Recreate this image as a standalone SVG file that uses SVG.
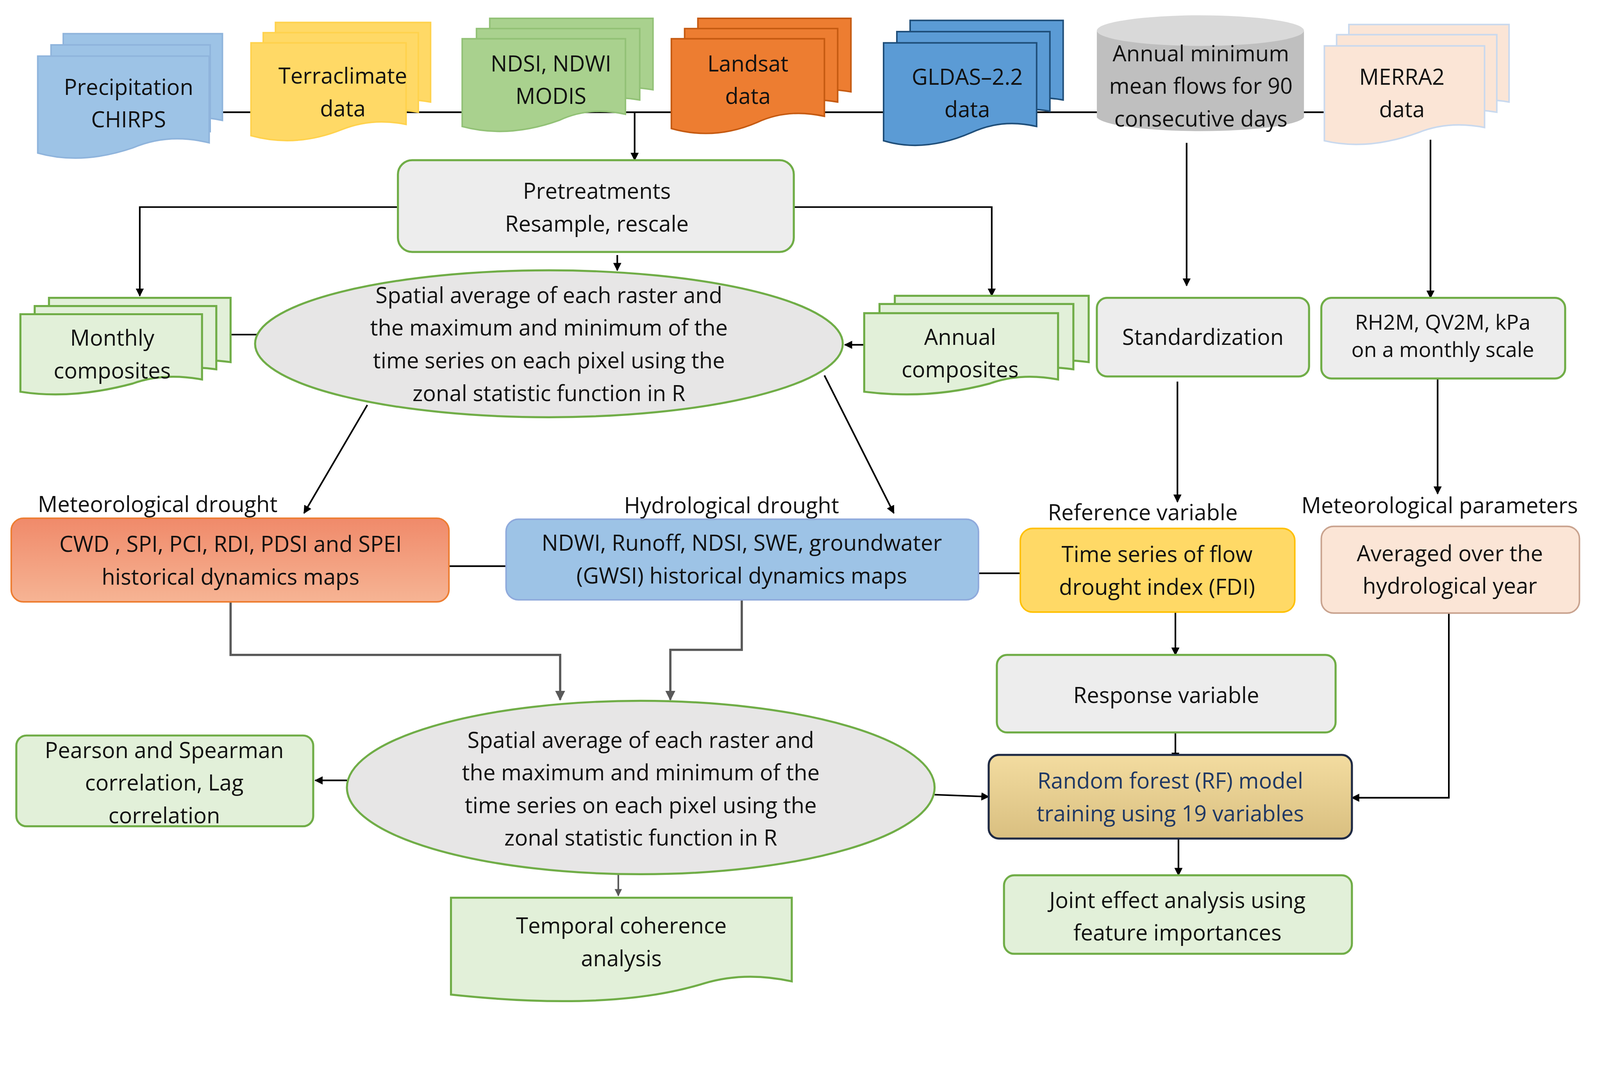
<svg xmlns="http://www.w3.org/2000/svg" width="4371" height="2773" viewBox="0 0 4371 2773">
<style>
text{font-family:"Open Sans","DejaVu Sans",sans-serif;font-size:21.5px;fill:#111;text-anchor:middle}
.l{stroke:#000;stroke-width:1.6;fill:none}
.g{stroke:#595959;stroke-width:2.2;fill:none}
.bx{fill:#ededed;stroke:#70ad47;stroke-width:2}
.gr{fill:#e2f0d9;stroke:#70ad47;stroke-width:2}
</style>
<defs>
<marker id="a" viewBox="0 0 10 10" refX="9" refY="5" markerWidth="5" markerHeight="5" orient="auto"><path d="M0,0L10,5L0,10z" fill="#000"/></marker>
<marker id="ag" viewBox="0 0 10 10" refX="9" refY="5" markerWidth="4.5" markerHeight="4.5" orient="auto"><path d="M0,0L10,5L0,10z" fill="#595959"/></marker>
<linearGradient id="rf" x1="0" y1="0" x2="0" y2="1"><stop offset="0" stop-color="#f3dca0"/><stop offset="1" stop-color="#d9bf80"/></linearGradient>
<linearGradient id="cw" x1="0" y1="0" x2="0" y2="1"><stop offset="0" stop-color="#f08a6a"/><stop offset="1" stop-color="#f6b494"/></linearGradient>
</defs>
<rect width="4371" height="2773" fill="#fff"/>
<g transform="scale(2.612)">
<g id="connectors">
<path class="l" d="M205,110H1298"/>
<path class="l" d="M622,110V157" marker-end="url(#a)"/>
<path class="l" d="M390,203H137V290" marker-end="url(#a)"/>
<path class="l" d="M778,203H972V290" marker-end="url(#a)"/>
<path class="l" d="M605,250V265" marker-end="url(#a)"/>
<path class="l" d="M225,328H252"/>
<path class="l" d="M847,338H828" marker-end="url(#a)"/>
<path class="l" d="M360,397L298,503" marker-end="url(#a)"/>
<path class="l" d="M808,368L876,503" marker-end="url(#a)"/>
<path class="l" d="M1163,140V280" marker-end="url(#a)"/>
<path class="l" d="M1402,137V292" marker-end="url(#a)"/>
<path class="l" d="M1154,374V492" marker-end="url(#a)"/>
<path class="l" d="M1409,371V484" marker-end="url(#a)"/>
<path class="l" d="M440,555H496M959,562H1000"/>
<path class="l" d="M1152,600V642" marker-end="url(#a)"/>
<path class="l" d="M1152,718V745" marker-end="url(#a)"/>
<path class="l" d="M1420,575V782H1325" marker-end="url(#a)"/>
<path class="g" d="M226,590V642H549V686" marker-end="url(#ag)"/>
<path class="g" d="M727,588V637H657V686" marker-end="url(#ag)"/>
<path class="l" d="M340,765H309" marker-end="url(#a)"/>
<path class="l" d="M916,779L969,781" marker-end="url(#a)"/>
<path class="g" d="M606,857V878" marker-end="url(#ag)" style="stroke-width:1.6"/>
<path class="l" d="M1155,822V858" marker-end="url(#a)"/>
</g>
<g id="chirps" fill="#9dc3e6" stroke="#8fb4dc" stroke-width="1.5">
<path d="M62,33H218V118Q180,110 150,125Q100,140 62,128Z"/>
<path d="M50,44H206V129Q168,121 138,136Q88,151 50,139Z"/>
<path d="M37,55H205V140Q165,130 130,145Q80,162 37,150Z"/>
<text x="126" y="93" stroke="none">Precipitation</text><text x="126" y="125" stroke="none">CHIRPS</text>
</g>
<g id="terraclimate" fill="#ffd966" stroke="#ffd24d" stroke-width="1.5">
<path d="M270,22H422V100Q390,94 360,106Q310,124 270,112Z"/>
<path d="M258,32H410V110Q378,104 348,116Q298,134 258,122Z"/>
<path d="M246,42H398V122Q365,115 335,127Q290,145 246,133Z"/>
<text x="336" y="82" stroke="none">Terraclimate</text><text x="336" y="114" stroke="none">data</text>
</g>
<g id="modis" fill="#a9d18e" stroke="#92c176" stroke-width="1.5">
<path d="M480,18H640V88Q605,82 575,94Q525,110 480,100Z"/>
<path d="M467,28H627V98Q592,92 562,104Q512,120 467,110Z"/>
<path d="M453,38H613V112Q578,104 548,118Q498,136 453,124Z"/>
<text x="540" y="70" stroke="none">NDSI, NDWI</text><text x="540" y="102" stroke="none">MODIS</text>
</g>
<g id="landsat" fill="#ed7d31" stroke="#c55a11" stroke-width="1.5">
<path d="M684,18H834V90Q800,84 770,96Q720,112 684,102Z"/>
<path d="M671,28H821V100Q787,94 757,106Q707,122 671,112Z"/>
<path d="M658,38H808V114Q772,106 742,120Q700,138 658,126Z"/>
<text x="733" y="70" stroke="none">Landsat</text><text x="733" y="102" stroke="none">data</text>
</g>
<g id="gldas" fill="#5b9bd5" stroke="#1f4e79" stroke-width="1.5">
<path d="M892,20H1042V98Q1008,92 978,104Q930,122 892,110Z"/>
<path d="M879,31H1029V109Q995,103 965,115Q917,133 879,121Z"/>
<path d="M866,42H1016V124Q982,116 952,130Q906,150 866,138Z"/>
<text x="948" y="83" stroke="none">GLDAS–2.2</text><text x="948" y="115" stroke="none">data</text>
</g>
<g id="annualmin">
<path d="M1075,30V115A102,15 0 0 0 1278,115V30Z" fill="#bfbfbf"/>
<ellipse cx="1176.5" cy="30" rx="101.5" ry="15" fill="#d9d9d9"/>
<text x="1177" y="60">Annual minimum</text><text x="1177" y="92">mean flows for 90</text><text x="1177" y="124">consecutive days</text>
</g>
<g id="merra2" fill="#fbe5d6" stroke="#c9d9ee" stroke-width="1.5">
<path d="M1322,24H1479V100Q1445,94 1415,106Q1365,122 1322,112Z"/>
<path d="M1310,34H1467V110Q1433,104 1403,116Q1353,132 1310,122Z"/>
<path d="M1298,45H1455V125Q1420,118 1390,130Q1340,148 1298,138Z"/>
<text x="1374" y="83" stroke="none">MERRA2</text><text x="1374" y="115" stroke="none">data</text>
</g>
<g id="pretreat"><rect class="bx" x="390" y="157" width="388" height="90" rx="14"/>
<text x="585" y="195">Pretreatments</text><text x="585" y="227">Resample, rescale</text></g>
<g id="ellipse1"><ellipse cx="538" cy="337" rx="288" ry="72" fill="#e7e6e6" stroke="#70ad47" stroke-width="2"/>
<text x="538" y="297">Spatial average of each raster and</text><text x="538" y="329">the maximum and minimum of the</text><text x="538" y="361">time series on each pixel using the</text><text x="538" y="393">zonal statistic function in R</text></g>
<g id="monthly">
<path class="gr" d="M48,292H226V355Q190,350 160,360Q100,375 48,366Z"/>
<path class="gr" d="M34,300H212V362Q176,357 146,367Q86,382 34,373Z"/>
<path class="gr" d="M20,308H198V372Q160,365 130,376Q70,392 20,384Z"/>
<text x="110" y="339">Monthly</text><text x="110" y="371">composites</text></g>
<g id="annualcomp">
<path class="gr" d="M877,290H1067V355Q1030,350 1000,360Q940,375 877,366Z"/>
<path class="gr" d="M862,298H1052V362Q1015,357 985,367Q925,382 862,373Z"/>
<path class="gr" d="M847,307H1037V372Q1000,365 970,376Q910,392 847,384Z"/>
<text x="941" y="338">Annual</text><text x="941" y="370">composites</text></g>
<g id="standard"><rect class="bx" x="1075" y="292" width="208" height="77" rx="10"/><text x="1179" y="338">Standardization</text></g>
<g id="rh2m"><rect class="bx" x="1295" y="292" width="239" height="79" rx="10"/><text x="1414" y="323" style="font-size:20.5px">RH2M, QV2M, kPa</text><text x="1414" y="350" style="font-size:20.5px">on a monthly scale</text></g>
<g id="labels" style="font-size:22px">
<text x="37" y="502" style="text-anchor:start">Meteorological drought</text>
<text x="717" y="503">Hydrological drought</text>
<text x="1120" y="510">Reference variable</text>
<text x="1411" y="503">Meteorological parameters</text></g>
<g id="cwd"><rect x="11" y="508" width="429" height="82" rx="12" fill="url(#cw)" stroke="#ed7d31" stroke-width="1.5"/>
<text x="226" y="541">CWD , SPI, PCI, RDI, PDSI and SPEI</text><text x="226" y="573">historical dynamics maps</text></g>
<g id="ndwi"><rect x="496" y="509" width="463" height="79" rx="12" fill="#9dc3e6" stroke="#8faadc" stroke-width="1.5"/>
<text x="727" y="540">NDWI, Runoff, NDSI, SWE, groundwater</text><text x="727" y="572">(GWSI) historical dynamics maps</text></g>
<g id="fdi"><rect x="1000" y="518" width="269" height="82" rx="12" fill="#ffd966" stroke="#ffc000" stroke-width="1.5"/>
<text x="1134" y="551">Time series of flow</text><text x="1134" y="583">drought index (FDI)</text></g>
<g id="averaged"><rect x="1295" y="516" width="253" height="85" rx="12" fill="#fbe5d6" stroke="#c9a38f" stroke-width="1.5"/>
<text x="1421" y="550">Averaged over the</text><text x="1421" y="582">hydrological year</text></g>
<g id="response"><rect class="bx" x="977" y="642" width="332" height="76" rx="10"/><text x="1143" y="689">Response variable</text></g>
<g id="rf"><rect x="969" y="740" width="356" height="82" rx="10" fill="url(#rf)" stroke="#1f2a44" stroke-width="2"/>
<text x="1147" y="773" style="fill:#1f3864">Random forest (RF) model</text><text x="1147" y="805" style="fill:#1f3864">training  using 19 variables</text></g>
<g id="joint"><rect class="gr" x="984" y="858" width="341" height="77" rx="10"/>
<text x="1154" y="890">Joint effect analysis using</text><text x="1154" y="922">feature importances</text></g>
<g id="ellipse2"><ellipse cx="628" cy="772" rx="288" ry="85" fill="#e7e6e6" stroke="#70ad47" stroke-width="2"/>
<text x="628" y="733">Spatial average of each raster and</text><text x="628" y="765">the maximum and minimum of the</text><text x="628" y="797">time series on each pixel using the</text><text x="628" y="829">zonal statistic function in R</text></g>
<g id="pearson"><rect class="gr" x="16" y="721" width="291" height="89" rx="10"/>
<text x="161" y="743">Pearson and Spearman</text><text x="161" y="775">correlation, Lag</text><text x="161" y="807">correlation</text></g>
<g id="temporal"><path class="gr" d="M442,880H776V962Q730,952 690,964Q600,992 442,975Z"/>
<text x="609" y="915">Temporal coherence</text><text x="609" y="947">analysis</text></g>
</g>
</svg>
